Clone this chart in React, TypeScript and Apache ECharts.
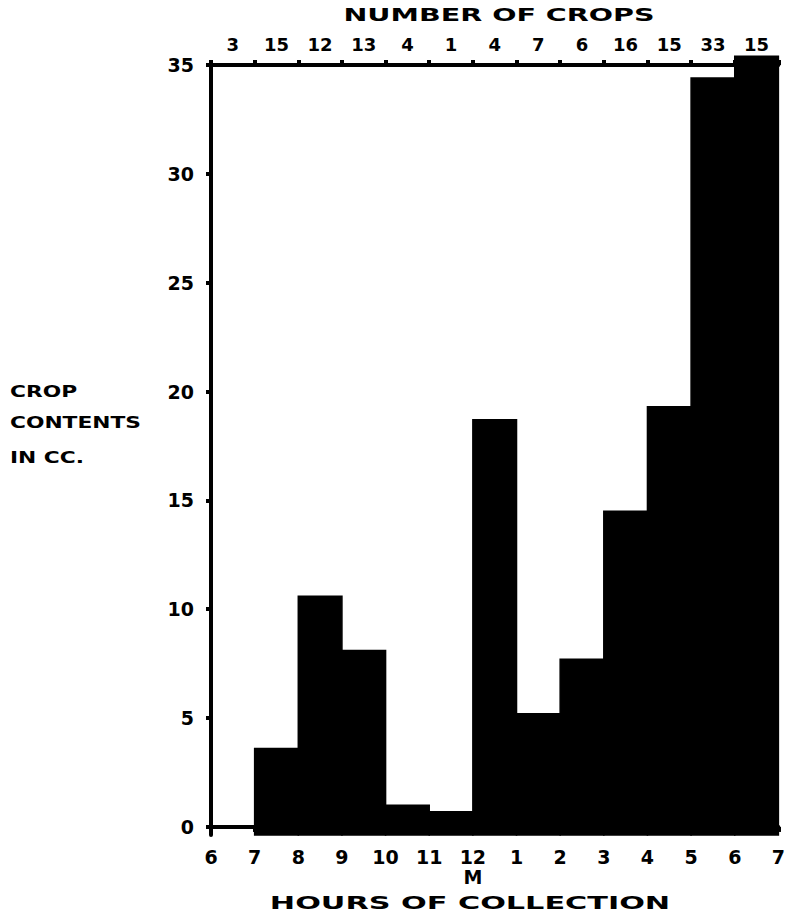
import React, { useEffect, useRef } from "react";
import * as echarts from "echarts";

const hourLabels = ["6", "7", "8", "9", "10", "11", "12", "1", "2", "3", "4", "5", "6", "7"];
const noonMark = "M";
const cropCounts = ["3", "15", "12", "13", "4", "1", "4", "7", "6", "16", "15", "33", "15"];
const cropContents = [0, 3.6, 10.6, 8.1, 1.0, 0.7, 18.7, 5.2, 7.7, 14.5, 19.3, 34.4, 35.4];
const yTickValues = [0, 5, 10, 15, 20, 25, 30, 35];

const FONT = "DejaVu Sans";
const AXIS_BASE = -0.37;

export default function App() {
  const ref = useRef<HTMLDivElement>(null);

  useEffect(() => {
    if (!ref.current) return;
    const chart = echarts.init(ref.current, null, { renderer: "svg" });
    const labelStyle = {
      color: "#000",
      fontFamily: FONT,
      fontWeight: "bold" as const,
      fontSize: 19,
    };
    const titleStyle = (text: string, size: number, align: string) => ({
      text,
      fill: "#000",
      fontFamily: FONT,
      fontWeight: "bold",
      fontSize: size,
      textAlign: align,
      textVerticalAlign: "middle",
    });
    chart.setOption({
      animation: false,
      backgroundColor: "#fff",
      grid: { left: 211, right: 9, top: 65, bottom: 84, containLabel: false },
      xAxis: [
        {
          type: "value",
          position: "bottom",
          min: 0,
          max: hourLabels.length - 1,
          interval: 1,
          splitLine: { show: false },
          axisLine: { show: true, lineStyle: { color: "#000", width: 4 } },
          axisTick: { show: true, length: 5, lineStyle: { color: "#000", width: 4 } },
          axisLabel: {
            ...labelStyle,
            margin: 12,
            lineHeight: 20,
            formatter: (v: number) => {
              const l = hourLabels[Math.round(v)];
              return l === "12" ? l + "\n" + noonMark : l;
            },
          },
        },
        {
          type: "category",
          position: "top",
          data: cropCounts,
          boundaryGap: true,
          splitLine: { show: false },
          axisLine: { show: true, lineStyle: { color: "#000", width: 4 } },
          axisTick: { show: true, length: 5, alignWithLabel: false, lineStyle: { color: "#000", width: 4 } },
          axisLabel: { ...labelStyle, fontSize: 18, margin: 12, interval: 0 },
        },
      ],
      yAxis: {
        type: "value",
        min: AXIS_BASE,
        max: 35,
        splitLine: { show: false },
        axisLine: { show: true, lineStyle: { color: "#000", width: 4 } },
        axisTick: { show: true, length: 5, customValues: yTickValues, lineStyle: { color: "#000", width: 4 } },
        axisLabel: { ...labelStyle, margin: 17, customValues: yTickValues },
      },
      graphic: [
        { type: "text", x: 499, y: 15, scaleX: 1.68, style: titleStyle("NUMBER OF CROPS", 17, "center") },
        { type: "text", x: 470, y: 903, scaleX: 1.78, style: titleStyle("HOURS OF COLLECTION", 17, "center") },
        ...["CROP", "CONTENTS", "IN CC."].map((t, i) => ({
          type: "text",
          x: 10,
          y: [392, 423, 458][i],
          scaleX: 1.36,
          style: titleStyle(t, 16, "left"),
        })),
      ],
      series: [
        {
          type: "custom",
          xAxisIndex: 0,
          yAxisIndex: 0,
          clip: false,
          data: cropContents.map((v, i) => [i, v]),
          encode: { x: 0, y: 1 },
          renderItem: (params: any, api: any) => {
            const i = api.value(0);
            const v = api.value(1);
            if (v <= 0) {
              const a = api.coord([i, 0]);
              const b = api.coord([i + 1, 0]);
              return {
                type: "line",
                shape: { x1: a[0], y1: a[1], x2: b[0], y2: b[1] },
                style: { stroke: "#000", lineWidth: 3 },
              };
            }
            const p0 = api.coord([i, AXIS_BASE]);
            const p1 = api.coord([i + 1, v]);
            return {
              type: "rect",
              shape: { x: p0[0], y: p1[1], width: p1[0] - p0[0], height: p0[1] - p1[1] },
              style: { fill: "#000", stroke: "#000", lineWidth: 1.5 },
            };
          },
        },
      ],
    });
    return () => chart.dispose();
  }, []);

  return (
    <div
      ref={ref}
      style={{ position: "absolute", left: 0, top: 0, width: 788, height: 919 }}
    />
  );
}
